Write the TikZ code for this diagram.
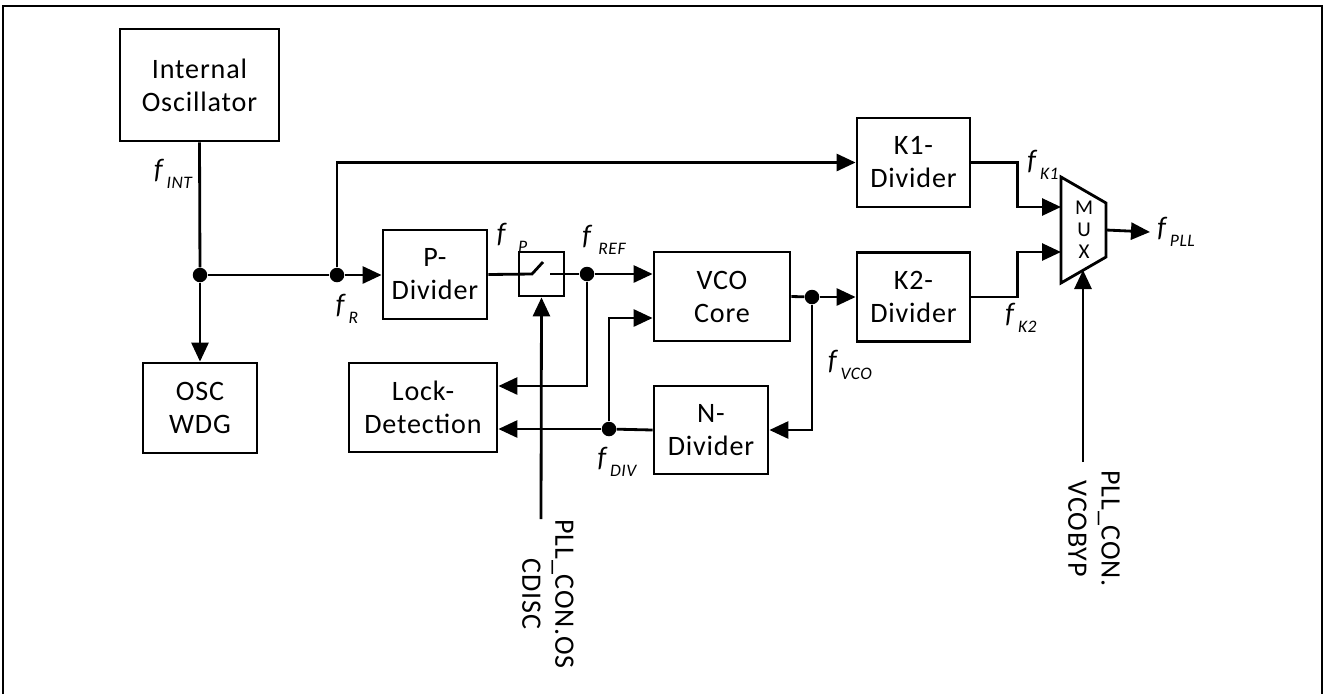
\documentclass[tikz,border=0pt]{standalone}
\usepackage{fontspec}
\setmainfont{Carlito}[LetterSpace=3]
\usetikzlibrary{arrows.meta}

\tikzset{
    block/.style={draw=black, line width=1.6pt, align=center, inner sep=0pt, font=\fontsize{16}{18.8}\selectfont},
    wire/.style={line width=1.6pt, black},
    signal/.style={-{Triangle[length=0.38cm, width=0.34cm]}, line width=1.6pt, black},
    junction/.style={circle, fill=black, inner sep=0pt, minimum size=0.29cm},
    freqlabel/.style={inner sep=0pt, font=\fontsize{16}{18.8}\selectfont},
    ctrllabel/.style={rotate=-90, anchor=west, align=center, inner sep=0pt, font=\fontsize{16}{18.8}\selectfont},
}
\newcommand{\freq}[1]{\textit{f}\kern1pt\raisebox{-5.5pt}{\fontsize{10}{10}\selectfont\itshape #1}}

\begin{document}
\begin{tikzpicture}[x=0.02cm, y=-0.02cm]

    \useasboundingbox (0,0) rectangle (1328,694);
    \draw[line width=1.2pt] (3,694) -- (3,6) -- (1322,6) -- (1322,694);

    % Oscillator and watchdog
    \node[block, minimum width=3.18cm, minimum height=2.24cm] (osc) at (199.5,85) {Internal\\Oscillator};
    \node[block, minimum width=2.28cm, minimum height=1.8cm] (wdg) at (200,408) {OSC\\WDG};

    % Dividers, switch, VCO and lock detection
    \node[block, minimum width=2.08cm, minimum height=1.78cm] (pdiv) at (435,274.5) {P-\\Divider};
    \node[block, minimum width=0.9cm, minimum height=0.88cm] (sw) at (541.5,274) {};
    \node[block, minimum width=2.96cm, minimum height=1.78cm] (lock) at (423,407.5) {Lock-\\Detection};
    \node[block, minimum width=2.72cm, minimum height=1.78cm] (vco) at (722,296.5) {VCO\\Core};
    \node[block, minimum width=2.28cm, minimum height=1.76cm] (ndiv) at (711,430) {N-\\Divider};
    \node[block, minimum width=2.26cm, minimum height=1.78cm] (kone) at (913.5,162.5) {K1-\\Divider};
    \node[block, minimum width=2.26cm, minimum height=1.78cm] (ktwo) at (913.5,297) {K2-\\Divider};

    % Multiplexer
    \draw[wire] (1061,177) -- (1106,203) -- (1106,257) -- (1061,283) -- cycle;
    \node[inner sep=0pt, align=center, font=\fontsize{12}{12.5}\selectfont] (mux) at (1084,230) {M\\U\\X};
    \coordinate (mux-in1) at (1061,207);
    \coordinate (mux-in2) at (1061,252);
    \coordinate (mux-out) at (1106,230);
    \coordinate (mux-sel) at (1083,270);

    % Junctions
    \node[junction] (j1) at (200,275) {};
    \node[junction] (j2) at (337,275) {};
    \node[junction] (j3) at (587,274) {};
    \node[junction] (j4) at (609,429) {};
    \node[junction] (j5) at (812,297) {};

    % Control inputs
    \coordinate (oscdisc-end) at (541,519);
    \coordinate (vcobyp-end) at (1083,462);
    \node[ctrllabel] (oscdisc) at (548,519) {PLL\_CON.OS\\CDISC};
    \node[ctrllabel] (vcobyp) at (1094,470) {PLL\_CON.\\VCOBYP};

    % Frequency labels
    \node[freqlabel] (lbl-int) at (173,174) {\freq{INT}};
    \node[freqlabel] (lbl-r) at (347,309) {\freq{R}};
    \node[freqlabel] (lbl-p) at (512,238) {\freq{\kern5pt P}};
    \node[freqlabel] (lbl-ref) at (604,240) {\freq{\kern2pt REF}};
    \node[freqlabel] (lbl-div) at (617,462) {\freq{DIV}};
    \node[freqlabel] (lbl-vco) at (850,365) {\freq{VCO}};
    \node[freqlabel] (lbl-k1) at (1043,165) {\freq{K1}};
    \node[freqlabel] (lbl-k2) at (1021,318) {\freq{K2}};
    \node[freqlabel, anchor=west, inner sep=4pt] (lbl-pll) at (1150,232) {\freq{PLL}};

    % Oscillator output
    \draw[wire] (osc.south) -- (j1);
    \draw[signal] (j1) -- (wdg.north);
    \draw[wire] (j1) -- (j2);
    \draw[signal] (j2) -- (j2 -| pdiv.west);
    \draw[signal] (j2) |- (kone.west);

    % Switch between P-Divider and VCO
    \draw[wire] (pdiv.east) -- ([xshift=-0.19cm]sw.center) -- ([shift={(0.03cm,0.24cm)}]sw.center);
    \draw[wire] ([xshift=0.17cm]sw.center) -- (j3);
    \draw[signal] (oscdisc-end) -- (sw.south);
    \draw[signal] (j3) -- (j3 -| vco.west);
    \draw[signal] (j3) |- ([yshift=0.43cm]lock.east);

    % Feedback through the N-Divider
    \draw[wire] (vco.east) -- (j5);
    \draw[signal] (j5) -- (j5 -| ktwo.west);
    \draw[signal] (j5) |- (ndiv.east);
    \draw[wire] (ndiv.west) -- (j4);
    \draw[signal] (j4) -- (j4 -| lock.east);
    \draw[signal] (j4) |- ([yshift=-0.43cm]vco.west);

    % Multiplexer inputs and output
    \draw[signal] (kone.east) -- ++(46,0) |- (mux-in1);
    \draw[signal] (ktwo.east) -- ++(46,0) |- (mux-in2);
    \draw[signal] (vcobyp-end) -- (mux-sel);
    \draw[signal] (mux-out) -- (lbl-pll.west);

\end{tikzpicture}
\end{document}
